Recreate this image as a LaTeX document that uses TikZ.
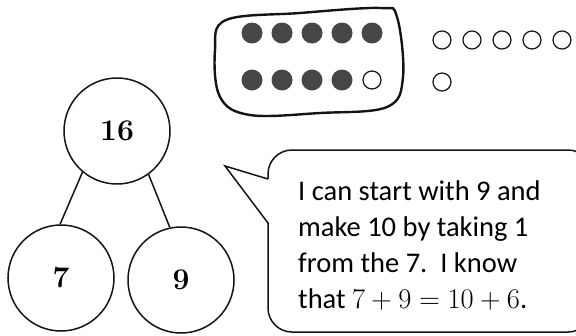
\RequirePackage{fix-cm}
\documentclass[tikz,border=0pt]{standalone}
\usepackage{fontspec}
\setsansfont{Carlito}
\usetikzlibrary{calc}
\definecolor{beadgray}{RGB}{70,70,70}
\definecolor{inkblack}{RGB}{20,20,20}
\tikzset{
    partcircle/.style={circle,draw=inkblack,line width=1.5pt,minimum size=106pt,inner sep=0pt,font=\bfseries\fontsize{30}{32}\selectfont},
    bond/.style={line width=1.5pt,draw=inkblack},
    fullbead/.style={fill=beadgray},
    emptybead/.style={draw=inkblack,line width=1.2pt},
    tenloop/.style={line width=2.4pt,draw=inkblack},
    bubble/.style={line width=1.5pt,draw=inkblack,line join=miter},
    bubbletext/.style={font=\sffamily\fontsize{28.5}{36}\selectfont,align=left,inner sep=0pt,anchor=north west}
}

\begin{document}
\begin{tikzpicture}[x=1pt,y=-1pt]
    \useasboundingbox (0,0) rectangle (576,335);
    % Number bond
    \node[partcircle] (whole) at (117,131) {16};
    \node[partcircle] (leftpart) at (61,278) {7};
    \node[partcircle] (rightpart) at (181,280) {9};
    \draw[bond] (whole.230) -- (leftpart.91);
    \draw[bond] (whole.306) -- (rightpart.102);
    % Ten frame loop
    \draw[tenloop] plot[smooth cycle,tension=0.6] coordinates {(226,20) (300,13) (380,8) (397,17) (403,77) (387,107) (320,113) (250,115) (220,97) (215,50)};
    % Beads, top row
    \fill[fullbead] (252,33) circle (10.5pt);
    \fill[fullbead] (282,33) circle (10.5pt);
    \fill[fullbead] (312,33) circle (10.5pt);
    \fill[fullbead] (342,33) circle (10.5pt);
    \fill[fullbead] (372,33) circle (10.5pt);
    % Beads, bottom row
    \fill[fullbead] (252,80) circle (10.5pt);
    \fill[fullbead] (282,80) circle (10.5pt);
    \fill[fullbead] (312,80) circle (10.5pt);
    \fill[fullbead] (342,80) circle (10.5pt);
    \draw[emptybead] (372,80) circle (9pt);
    % Beads left over
    \draw[emptybead] (442,40) circle (9pt);
    \draw[emptybead] (472,40) circle (9pt);
    \draw[emptybead] (502,40) circle (9pt);
    \draw[emptybead] (532,40) circle (9pt);
    \draw[emptybead] (562,40) circle (9pt);
    \draw[emptybead] (442,82) circle (9pt);
    % Speech bubble
    \draw[bubble] (268,179) -- (225,166) -- (268,223) -- (268,260)
        {[rounded corners=24pt] -- (268,332) -- (592,332) -- (592,150) -- (268,150) -- (268,179)};
    \node[bubbletext] (speech) at (298,181) {I can start with 9 and\\make 10 by taking 1\\from the 7.\ \ I know\\that $7+9=10+6$.};
\end{tikzpicture}
\end{document}
